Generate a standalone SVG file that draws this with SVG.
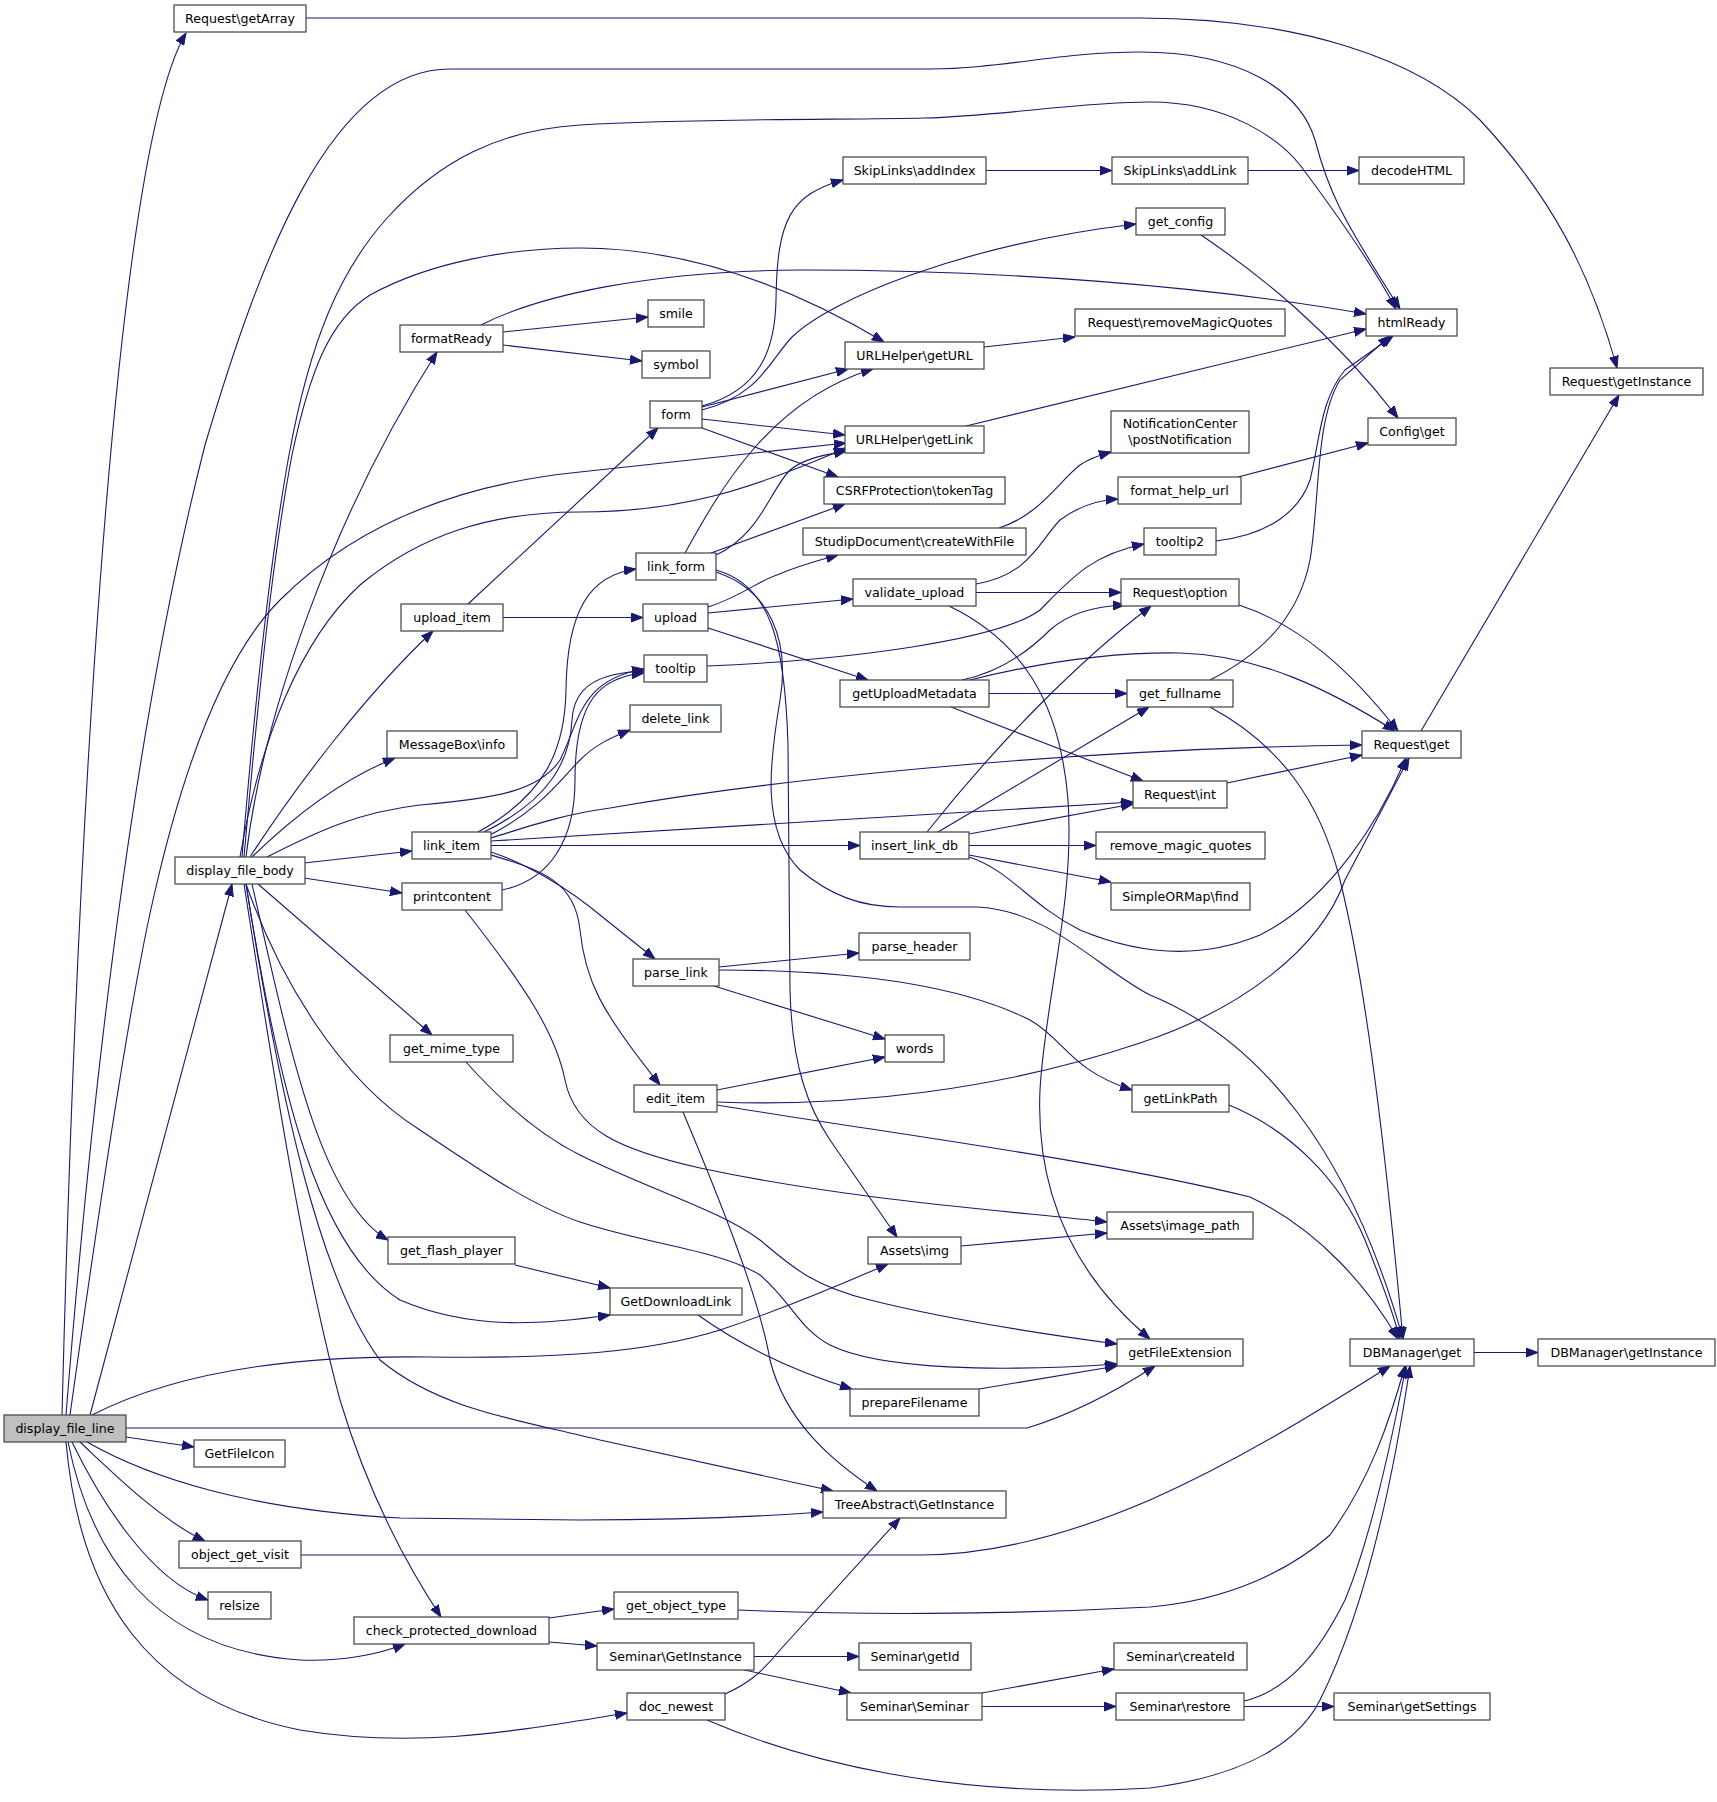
<svg xmlns="http://www.w3.org/2000/svg" width="1717" height="1802" viewBox="0 0 1717 1802">
<style>
.n rect{fill:#ffffff;stroke:#404040;stroke-width:1.2}
.n text{font-family:"DejaVu Sans","Liberation Sans",sans-serif;font-size:12.6px;text-anchor:middle;fill:#000}
.e path{fill:none;stroke:#191970;stroke-width:1.1;marker-end:url(#a)}
</style>
<defs>
<marker id="a" markerUnits="userSpaceOnUse" markerWidth="12" markerHeight="10" refX="12" refY="5" orient="auto" viewBox="0 0 12 10"><path d="M0,0.5 L12,5 L0,9.5 z" fill="#191970" stroke="#191970" stroke-width="1"/></marker>
</defs>
<rect width="1717" height="1802" fill="#ffffff"/>
<g id="edges" class="e">
<path d="M62,1415 C75,900 110,160 186,33"/>
<path d="M66,1415 C95,1050 140,700 205,445 C260,260 330,69 450,69 L930,69 C1000,69 1060,52 1140,52 C1240,52 1300,90 1315,140 C1328,190 1340,215 1400,309"/>
<path d="M242,857 C255,700 270,560 289,455 C310,340 340,270 388,217 C440,160 500,130 580,125 C700,118 850,120 925,118 C1000,116 1080,102 1150,102 C1230,102 1280,140 1300,165 C1330,205 1370,260 1396,309"/>
<path d="M244,857 C258,700 272,560 292,455 C310,370 330,320 370,295 C430,262 510,248 580,248 C680,248 780,280 884,342"/>
<path d="M246,857 C262,720 330,520 437,352"/>
<path d="M481,325 C540,295 650,271 800,270 C1000,270 1200,285 1366,314"/>
<path d="M503,332 L648,317"/>
<path d="M503,345 L642,361"/>
<path d="M306,18 L1140,18 C1300,18 1420,60 1480,120 C1550,195 1590,270 1617,368"/>
<path d="M984,347 L1075,337"/>
<path d="M986,170.5 L1112,170.5"/>
<path d="M1248,170.5 L1359,170.5"/>
<path d="M966,426 L1366,329"/>
<path d="M1201,235 C1260,275 1330,330 1398,418"/>
<path d="M702,406 C760,390 775,350 776,300 C777,220 790,195 843,180"/>
<path d="M702,410 C760,395 770,360 792,337 C830,300 960,245 1136,224"/>
<path d="M702,407 L848,369"/>
<path d="M702,419 L845,435"/>
<path d="M702,428 L838,477"/>
<path d="M685,553 C720,490 770,400 873,369"/>
<path d="M716,555 C760,535 770,490 790,470 C805,458 825,455 846,451"/>
<path d="M711,553 L845,504"/>
<path d="M716,570 C770,585 785,640 788,745 L790,990 C792,1070 810,1110 830,1140 L897,1237"/>
<path d="M716,572 C770,590 790,640 780,700 C770,760 760,830 800,870 C830,895 860,907 900,907 L977,907 C1050,910 1100,970 1150,995 C1260,1040 1350,1150 1403,1339"/>
<path d="M468,604 L658,428"/>
<path d="M503,617.5 L643,617.5"/>
<path d="M708,607 C740,597 760,580 777,575 C800,565 820,560 838,555"/>
<path d="M708,613 L853,599"/>
<path d="M708,628 L868,680"/>
<path d="M707,666 C850,660 1000,640 1040,610 C1070,580 1090,555 1144,544"/>
<path d="M976,584 C1030,575 1040,540 1060,520 C1080,505 1100,500 1118,499"/>
<path d="M976,592.5 L1121,592.5"/>
<path d="M949,606 C1020,640 1060,700 1068,800 C1075,900 1045,1000 1040,1090 C1035,1200 1080,1280 1150,1339"/>
<path d="M999,528 C1040,515 1060,480 1080,465 C1090,458 1100,455 1111,452"/>
<path d="M962,680 C1000,672 1030,650 1050,630 C1070,612 1100,606 1125,605"/>
<path d="M970,680 C1050,660 1120,652 1180,653 C1260,655 1330,690 1395,731"/>
<path d="M989,693.5 L1127,693.5"/>
<path d="M951,707 L1143,781"/>
<path d="M927,832 C1000,740 1080,660 1151,606"/>
<path d="M938,832 L1149,707"/>
<path d="M969,834 L1133,804"/>
<path d="M969,845.5 L1096,845.5"/>
<path d="M969,855 L1111,882"/>
<path d="M969,857 C1010,870 1030,905 1080,930 C1140,955 1200,960 1260,935 C1330,900 1380,820 1406,758"/>
<path d="M717,1102 C850,1107 1000,1090 1140,1043 C1240,1010 1320,950 1345,880 L1409,758"/>
<path d="M491,838 C530,826 560,815 610,808 C800,775 1100,748 1362,745"/>
<path d="M491,841 L1133,802"/>
<path d="M491,845.5 L860,845.5"/>
<path d="M478,832 C545,795 565,750 566,690 C567,610 590,575 636,569"/>
<path d="M484,832 C550,800 570,760 572,720 C574,685 600,673 644,671"/>
<path d="M502,890 C550,880 575,840 575,780 C575,700 600,677 644,673"/>
<path d="M267,857 C320,830 360,812 420,805 C500,798 540,790 560,760 C580,720 580,680 644,669"/>
<path d="M488,836 C540,810 560,780 580,760 C595,745 610,738 630,730"/>
<path d="M491,852 C530,865 570,890 600,915 L655,959"/>
<path d="M491,855 C540,870 575,880 580,930 C585,980 600,1010 660,1085"/>
<path d="M304,863 L412,851"/>
<path d="M304,878 L402,893"/>
<path d="M252,857 C290,820 340,780 395,758"/>
<path d="M250,857 C300,780 370,690 433,631"/>
<path d="M240,857 C260,740 300,640 360,585 C420,535 490,512 580,512 C680,512 750,490 846,448"/>
<path d="M70,1415 C100,1200 130,1000 153,900 C180,780 220,660 280,600 C350,530 450,485 580,472 L846,443"/>
<path d="M90,1415 L232,884"/>
<path d="M258,884 L432,1035"/>
<path d="M246,884 C280,980 340,1080 420,1130 C480,1170 530,1205 580,1222 C650,1245 720,1250 760,1275 C790,1300 800,1330 830,1345 C880,1370 1000,1372 1117,1364"/>
<path d="M466,1062 C500,1100 540,1135 580,1155 C650,1190 720,1210 760,1240 C790,1265 810,1285 870,1300 C950,1320 1050,1335 1117,1344"/>
<path d="M252,884 C290,1050 320,1200 388,1240"/>
<path d="M515,1265 L610,1288"/>
<path d="M246,884 C280,1100 320,1250 400,1300 C470,1330 540,1325 610,1315"/>
<path d="M244,884 C270,1050 300,1250 340,1400 C370,1500 410,1570 441,1617"/>
<path d="M246,884 C280,1100 320,1280 380,1360 C440,1410 520,1420 600,1440 L833,1491"/>
<path d="M92,1415 C180,1370 300,1355 430,1357 C560,1359 650,1352 720,1330 C780,1310 840,1285 888,1264"/>
<path d="M126,1428 L1027,1428 C1070,1415 1110,1395 1155,1366"/>
<path d="M126,1437 L194,1447"/>
<path d="M87,1442 C150,1478 250,1510 400,1518 L580,1520 C650,1520 740,1518 823,1512"/>
<path d="M80,1442 C110,1470 160,1520 205,1541"/>
<path d="M72,1442 C100,1500 150,1580 208,1600"/>
<path d="M68,1442 C90,1550 150,1650 300,1660 C340,1662 380,1654 405,1644"/>
<path d="M66,1442 C80,1600 150,1700 300,1730 C420,1750 520,1730 627,1713"/>
<path d="M301,1555 L920,1555 C1000,1555 1080,1530 1150,1500 C1240,1460 1320,1410 1390,1366"/>
<path d="M738,1610 C850,1615 1000,1615 1150,1607 C1230,1600 1290,1570 1330,1535 C1370,1480 1390,1420 1405,1366"/>
<path d="M1244,1701 C1290,1690 1320,1650 1345,1600 C1370,1540 1390,1450 1406,1366"/>
<path d="M707,1720 C800,1760 950,1800 1150,1788 C1250,1775 1300,1740 1320,1700 C1360,1620 1390,1500 1410,1366"/>
<path d="M725,1694 C745,1685 760,1675 780,1650 L900,1518"/>
<path d="M1229,1105 C1290,1130 1340,1180 1365,1240 C1385,1290 1395,1320 1400,1339"/>
<path d="M1210,707 C1280,745 1320,800 1340,880 C1370,1000 1390,1200 1403,1339"/>
<path d="M717,1105 C900,1135 1100,1160 1250,1197 C1320,1230 1370,1290 1398,1339"/>
<path d="M1210,680 C1270,650 1300,610 1310,560 C1320,500 1315,420 1340,380 L1390,336"/>
<path d="M1216,541 C1270,535 1300,510 1310,480 C1320,440 1320,400 1345,370 L1393,336"/>
<path d="M1238,477 L1368,443"/>
<path d="M1239,605 C1300,625 1350,670 1398,731"/>
<path d="M1227,783 L1362,755"/>
<path d="M1421,731 L1619,395"/>
<path d="M1474,1352.5 L1538,1352.5"/>
<path d="M717,1090 L885,1057"/>
<path d="M683,1112 C720,1200 760,1300 770,1360 C785,1420 830,1460 877,1491"/>
<path d="M719,967 L859,953"/>
<path d="M714,986 L885,1039"/>
<path d="M719,970 C850,970 960,985 1030,1020 C1065,1040 1070,1070 1132,1090"/>
<path d="M961,1246 L1107,1233"/>
<path d="M465,910 C520,980 555,1030 565,1080 C575,1130 620,1150 700,1168 C850,1200 1000,1210 1107,1222"/>
<path d="M698,1315 C740,1345 790,1370 852,1389"/>
<path d="M979,1389 L1117,1366"/>
<path d="M549,1618 L614,1609"/>
<path d="M549,1642 L597,1646"/>
<path d="M754,1656.5 L859,1656.5"/>
<path d="M740,1669 L851,1693"/>
<path d="M982,1693 L1114,1669"/>
<path d="M982,1706.5 L1116,1706.5"/>
<path d="M1244,1706.5 L1334,1706.5"/>
</g>
<g id="display_file_line" class="n"><rect x="4" y="1415" width="122" height="27" style="fill:#bfbfbf"/><text x="65" y="1433">display_file_line</text></g>
<g id="getArray" class="n"><rect x="174" y="5" width="132" height="27"/><text x="240" y="23">Request\getArray</text></g>
<g id="htmlReady" class="n"><rect x="1366" y="309" width="91" height="27"/><text x="1411.5" y="327">htmlReady</text></g>
<g id="Request_getInstance" class="n"><rect x="1550" y="368" width="153" height="27"/><text x="1626.5" y="386">Request\getInstance</text></g>
<g id="display_file_body" class="n"><rect x="175" y="857" width="130" height="27"/><text x="240" y="875">display_file_body</text></g>
<g id="formatReady" class="n"><rect x="400" y="325" width="103" height="27"/><text x="451.5" y="343">formatReady</text></g>
<g id="smile" class="n"><rect x="648" y="300" width="56" height="27"/><text x="676" y="318">smile</text></g>
<g id="symbol" class="n"><rect x="642" y="351" width="68" height="27"/><text x="676" y="369">symbol</text></g>
<g id="addIndex" class="n"><rect x="843" y="157" width="143" height="27"/><text x="914.5" y="175">SkipLinks\addIndex</text></g>
<g id="addLink" class="n"><rect x="1112" y="157" width="136" height="27"/><text x="1180" y="175">SkipLinks\addLink</text></g>
<g id="decodeHTML" class="n"><rect x="1359" y="157" width="105" height="27"/><text x="1411.5" y="175">decodeHTML</text></g>
<g id="get_config" class="n"><rect x="1136" y="208" width="89" height="27"/><text x="1180.5" y="226">get_config</text></g>
<g id="getURL" class="n"><rect x="845" y="342" width="139" height="27"/><text x="914.5" y="360">URLHelper\getURL</text></g>
<g id="removeMagicQuotes" class="n"><rect x="1075" y="309" width="210" height="27"/><text x="1180" y="327">Request\removeMagicQuotes</text></g>
<g id="form" class="n"><rect x="650" y="401" width="52" height="27"/><text x="676" y="419">form</text></g>
<g id="getLink" class="n"><rect x="845" y="426" width="139" height="27"/><text x="914.5" y="444">URLHelper\getLink</text></g>
<g id="postNotification" class="n"><rect x="1111" y="411" width="138" height="42"/><text x="1180" y="428">NotificationCenter</text><text x="1180" y="444">\postNotification</text></g>
<g id="Config_get" class="n"><rect x="1368" y="418" width="88" height="27"/><text x="1412" y="436">Config\get</text></g>
<g id="tokenTag" class="n"><rect x="824" y="477" width="181" height="27"/><text x="914.5" y="495">CSRFProtection\tokenTag</text></g>
<g id="createWithFile" class="n"><rect x="803" y="528" width="223" height="27"/><text x="914.5" y="546">StudipDocument\createWithFile</text></g>
<g id="format_help_url" class="n"><rect x="1118" y="477" width="123" height="27"/><text x="1179.5" y="495">format_help_url</text></g>
<g id="tooltip2" class="n"><rect x="1144" y="528" width="72" height="27"/><text x="1180" y="546">tooltip2</text></g>
<g id="link_form" class="n"><rect x="636" y="553" width="80" height="27"/><text x="676" y="571">link_form</text></g>
<g id="validate_upload" class="n"><rect x="853" y="579" width="123" height="27"/><text x="914.5" y="597">validate_upload</text></g>
<g id="Request_option" class="n"><rect x="1121" y="579" width="118" height="27"/><text x="1180" y="597">Request\option</text></g>
<g id="upload_item" class="n"><rect x="401" y="604" width="102" height="27"/><text x="452" y="622">upload_item</text></g>
<g id="upload" class="n"><rect x="643" y="604" width="65" height="27"/><text x="675.5" y="622">upload</text></g>
<g id="tooltip" class="n"><rect x="644" y="655" width="63" height="27"/><text x="675.5" y="673">tooltip</text></g>
<g id="getUploadMetadata" class="n"><rect x="840" y="680" width="149" height="27"/><text x="914.5" y="698">getUploadMetadata</text></g>
<g id="get_fullname" class="n"><rect x="1127" y="680" width="106" height="27"/><text x="1180" y="698">get_fullname</text></g>
<g id="delete_link" class="n"><rect x="630" y="705" width="91" height="27"/><text x="675.5" y="723">delete_link</text></g>
<g id="MessageBox_info" class="n"><rect x="387" y="731" width="130" height="27"/><text x="452" y="749">MessageBox\info</text></g>
<g id="Request_get" class="n"><rect x="1362" y="731" width="99" height="27"/><text x="1411.5" y="749">Request\get</text></g>
<g id="Request_int" class="n"><rect x="1133" y="781" width="94" height="27"/><text x="1180" y="799">Request\int</text></g>
<g id="link_item" class="n"><rect x="412" y="832" width="79" height="27"/><text x="451.5" y="850">link_item</text></g>
<g id="insert_link_db" class="n"><rect x="860" y="832" width="109" height="27"/><text x="914.5" y="850">insert_link_db</text></g>
<g id="remove_magic_quotes" class="n"><rect x="1096" y="832" width="169" height="27"/><text x="1180.5" y="850">remove_magic_quotes</text></g>
<g id="printcontent" class="n"><rect x="402" y="883" width="100" height="27"/><text x="452" y="901">printcontent</text></g>
<g id="SimpleORMap_find" class="n"><rect x="1111" y="883" width="139" height="27"/><text x="1180.5" y="901">SimpleORMap\find</text></g>
<g id="parse_header" class="n"><rect x="859" y="933" width="111" height="27"/><text x="914.5" y="951">parse_header</text></g>
<g id="parse_link" class="n"><rect x="633" y="959" width="86" height="27"/><text x="676" y="977">parse_link</text></g>
<g id="get_mime_type" class="n"><rect x="390" y="1035" width="123" height="27"/><text x="451.5" y="1053">get_mime_type</text></g>
<g id="words" class="n"><rect x="885" y="1035" width="59" height="27"/><text x="914.5" y="1053">words</text></g>
<g id="edit_item" class="n"><rect x="634" y="1085" width="83" height="27"/><text x="675.5" y="1103">edit_item</text></g>
<g id="getLinkPath" class="n"><rect x="1132" y="1085" width="97" height="27"/><text x="1180.5" y="1103">getLinkPath</text></g>
<g id="image_path" class="n"><rect x="1107" y="1212" width="146" height="27"/><text x="1180" y="1230">Assets\image_path</text></g>
<g id="get_flash_player" class="n"><rect x="388" y="1237" width="127" height="27"/><text x="451.5" y="1255">get_flash_player</text></g>
<g id="Assets_img" class="n"><rect x="868" y="1237" width="93" height="27"/><text x="914.5" y="1255">Assets\img</text></g>
<g id="GetDownloadLink" class="n"><rect x="610" y="1288" width="132" height="27"/><text x="676" y="1306">GetDownloadLink</text></g>
<g id="getFileExtension" class="n"><rect x="1117" y="1339" width="126" height="27"/><text x="1180" y="1357">getFileExtension</text></g>
<g id="DBManager_get" class="n"><rect x="1350" y="1339" width="124" height="27"/><text x="1412" y="1357">DBManager\get</text></g>
<g id="DBManager_getInstance" class="n"><rect x="1538" y="1339" width="177" height="27"/><text x="1626.5" y="1357">DBManager\getInstance</text></g>
<g id="prepareFilename" class="n"><rect x="850" y="1389" width="129" height="27"/><text x="914.5" y="1407">prepareFilename</text></g>
<g id="GetFileIcon" class="n"><rect x="194" y="1440" width="91" height="27"/><text x="239.5" y="1458">GetFileIcon</text></g>
<g id="TreeAbstract_GetInstance" class="n"><rect x="823" y="1491" width="183" height="27"/><text x="914.5" y="1509">TreeAbstract\GetInstance</text></g>
<g id="object_get_visit" class="n"><rect x="179" y="1541" width="122" height="27"/><text x="240" y="1559">object_get_visit</text></g>
<g id="relsize" class="n"><rect x="208" y="1592" width="63" height="27"/><text x="239.5" y="1610">relsize</text></g>
<g id="get_object_type" class="n"><rect x="614" y="1592" width="124" height="27"/><text x="676" y="1610">get_object_type</text></g>
<g id="check_protected_download" class="n"><rect x="354" y="1617" width="195" height="27"/><text x="451.5" y="1635">check_protected_download</text></g>
<g id="Seminar_GetInstance" class="n"><rect x="597" y="1643" width="157" height="27"/><text x="675.5" y="1661">Seminar\GetInstance</text></g>
<g id="Seminar_getId" class="n"><rect x="859" y="1643" width="112" height="27"/><text x="915" y="1661">Seminar\getId</text></g>
<g id="Seminar_createId" class="n"><rect x="1114" y="1643" width="133" height="27"/><text x="1180.5" y="1661">Seminar\createId</text></g>
<g id="doc_newest" class="n"><rect x="627" y="1693" width="98" height="27"/><text x="676" y="1711">doc_newest</text></g>
<g id="Seminar_Seminar" class="n"><rect x="847" y="1693" width="135" height="27"/><text x="914.5" y="1711">Seminar\Seminar</text></g>
<g id="Seminar_restore" class="n"><rect x="1116" y="1693" width="128" height="27"/><text x="1180" y="1711">Seminar\restore</text></g>
<g id="Seminar_getSettings" class="n"><rect x="1334" y="1693" width="156" height="27"/><text x="1412" y="1711">Seminar\getSettings</text></g>
</svg>
